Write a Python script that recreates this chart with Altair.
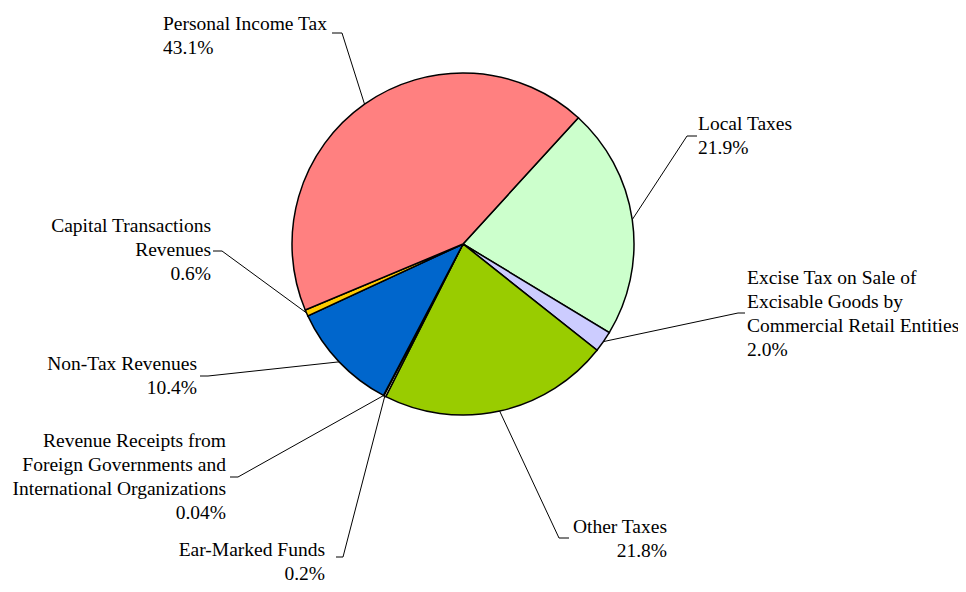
import math
import altair as alt
import pandas as pd

# ---- data ----
categories = [
    "Local Taxes",
    "Excise Tax on Sale of Excisable Goods by Commercial Retail Entities",
    "Other Taxes",
    "Ear-Marked Funds",
    "Revenue Receipts from Foreign Governments and International Organizations",
    "Non-Tax Revenues",
    "Capital Transactions Revenues",
    "Personal Income Tax",
]
values = [21.9, 2.0, 21.8, 0.2, 0.04, 10.4, 0.6, 43.1]
pct_labels = ["21.9%", "2.0%", "21.8%", "0.2%", "0.04%", "10.4%", "0.6%", "43.1%"]
label_lines = [
    "Local Taxes",
    "Excise Tax on Sale of\nExcisable Goods by\nCommercial Retail Entities",
    "Other Taxes",
    "Ear-Marked Funds",
    "Revenue Receipts from\nForeign Governments and\nInternational Organizations",
    "Non-Tax Revenues",
    "Capital Transactions\nRevenues",
    "Personal Income Tax",
]
colors = ["#CCFFCC", "#CCCCFF", "#99CC00", "#FFFFCC", "#99CCFF", "#0066CC", "#FFCC00", "#FF8080"]

# ---- layout (pixel coordinates of the page) ----
CX, CY, R = 463, 244, 171
START_DEG = 42.4
label_x = [698, 747, 667, 325, 226, 197, 211, 163]
label_y = [130, 284, 533, 556, 447, 370, 232, 30]
label_align = ["left", "left", "right", "right", "right", "right", "right", "left"]
elbow_x = [687, 738, 559, 343, 238, 208, 222, 342]
elbow_y = [136, 313, 538, 557, 477, 376, 251, 33]
end_x = [697, 745, 569, 336, 230, 200, 213, 332]
end_y = [136, 313, 538, 557, 477, 376, 251, 33]

start = math.radians(START_DEG)
total = sum(values)

pie_df = pd.DataFrame({"cat": categories, "value": values, "ord": list(range(len(values)))})

rows = []
cum = 0.0
for i, v in enumerate(values):
    mid = start + 2 * math.pi * (cum + v / 2) / total
    cum += v
    x0 = CX + R * math.sin(mid)
    y0 = CY - R * math.cos(mid)
    rows.append({"cat": categories[i], "k": 0, "x": x0, "y": y0})
    rows.append({"cat": categories[i], "k": 1, "x": elbow_x[i], "y": elbow_y[i]})
    rows.append({"cat": categories[i], "k": 2, "x": end_x[i], "y": end_y[i]})
line_df = pd.DataFrame(rows)

text_df = pd.DataFrame({
    "cat": categories,
    "label": [f"{n}\n{p}" for n, p in zip(label_lines, pct_labels)],
    "x": label_x,
    "y": label_y,
    "align": label_align,
})

W, H = 950, 576
xs = alt.Scale(domain=[8, 8 + W], nice=False, zero=False)
ys = alt.Scale(domain=[8, 8 + H], nice=False, zero=False, reverse=True)

FONT = "Times New Roman, Liberation Serif, Tinos, serif"

pie = alt.Chart(pie_df).mark_arc(
    radius=R, stroke="black", strokeWidth=1.5
).encode(
    theta=alt.Theta("value:Q", stack=True,
                    scale=alt.Scale(range=[start, start + 2 * math.pi])),
    color=alt.Color("cat:N", scale=alt.Scale(domain=categories, range=colors), legend=None),
    order=alt.Order("ord:Q"),
    x=alt.value(CX - 8),
    y=alt.value(CY - 8),
)

lines = alt.Chart(line_df).mark_line(color="black", strokeWidth=1).encode(
    x=alt.X("x:Q", scale=xs, axis=None),
    y=alt.Y("y:Q", scale=ys, axis=None),
    detail="cat:N",
    order="k:Q",
)

def text_layer(align):
    return alt.Chart(text_df).transform_filter(
        alt.datum.align == align
    ).mark_text(
        align=align, baseline="alphabetic", lineBreak="\n",
        font=FONT, fontSize=19.5, lineHeight=24, color="black",
    ).encode(
        x=alt.X("x:Q", scale=xs, axis=None),
        y=alt.Y("y:Q", scale=ys, axis=None),
        text="label:N",
    )

chart = alt.layer(lines, pie, text_layer("left"), text_layer("right")).properties(
    width=W, height=H, padding=0, autosize="none",
    background="white",
).configure_view(stroke=None)

chart.save("out.html", embed_options={"renderer": "svg", "actions": False})
